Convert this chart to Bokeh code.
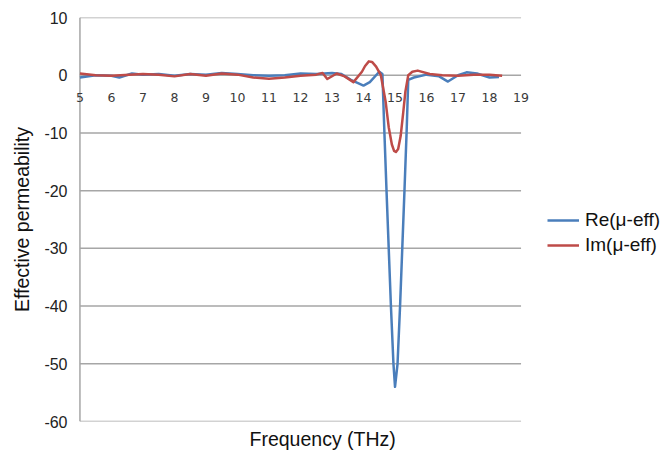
from bokeh.plotting import figure
from bokeh.models import LinearAxis, Range1d, FixedTicker, Legend, LegendItem, Title
from bokeh.embed import file_html
from bokeh.resources import INLINE

# Frequency (THz) and effective permeability values
re_freq = [5.0, 5.5, 6.0, 6.25, 6.65, 7.0, 7.5, 8.0, 8.5, 9.0, 9.5, 10.0, 10.5, 11.0, 11.5,
           12.0, 12.5, 13.0, 13.3, 13.6, 14.0, 14.2, 14.5, 14.6, 14.66, 14.73, 14.8, 14.87,
           14.95, 15.0, 15.08, 15.16, 15.23, 15.3, 15.37, 15.42, 15.6, 16.0, 16.4, 16.68,
           17.0, 17.27, 17.6, 18.0, 18.3]
re_mu = [-0.4, 0.0, -0.1, -0.4, 0.3, 0.1, 0.2, -0.1, 0.2, 0.1, 0.4, 0.2, 0.0, -0.1, 0.0,
         0.3, 0.2, 0.4, 0.2, -0.8, -1.8, -1.2, 0.6, 0.2, -9.5, -20.0, -30.0, -40.0,
         -50.0, -54.0, -50.0, -40.0, -30.0, -20.0, -9.5, -0.8, -0.4, 0.1, -0.2, -1.1,
         0.0, 0.5, 0.3, -0.4, -0.3]

im_freq = [5.0, 5.5, 6.0, 7.0, 7.5, 8.0, 8.5, 9.0, 9.5, 10.0, 10.5, 11.0, 11.5, 12.0,
           12.5, 12.7, 12.85, 13.15, 13.4, 13.68, 13.95, 14.05, 14.17, 14.27, 14.4, 14.55,
           14.7, 14.8, 14.9, 14.97, 15.03, 15.1, 15.18, 15.26, 15.33, 15.42, 15.55, 15.72,
           16.1, 16.5, 17.0, 17.5, 18.0, 18.4]
im_mu = [0.3, 0.0, -0.1, 0.2, 0.1, -0.2, 0.2, -0.1, 0.3, 0.1, -0.4, -0.6, -0.4, -0.1,
         0.1, 0.4, -0.65, 0.3, -0.2, -1.2, 0.6, 1.6, 2.4, 2.3, 1.5, 0.0,
         -4.5, -9.0, -12.0, -13.1, -13.3, -12.8, -10.5, -6.5, -2.8, 0.0, 0.6, 0.8,
         0.2, 0.0, -0.1, 0.1, 0.1, -0.1]

x_ticks = list(range(5, 20))
y_ticks = list(range(-60, 11, 10))
series_names = ["Re(\u03bc-eff)", "Im(\u03bc-eff)"]

p = figure(frame_width=460, frame_height=404, output_backend="svg", toolbar_location=None,
           x_range=Range1d(4.7, 19.3), y_range=Range1d(-60, 10),
           min_border_left=70, min_border_right=0, min_border_top=17, min_border_bottom=0,
           x_axis_location=None)
p.outline_line_color = None
p.background_fill_color = "white"
p.border_fill_color = "white"
p.xgrid.grid_line_color = None
p.ygrid.grid_line_color = None

# gridlines and the value axis line, spanning the frequency ticks
p.segment(x0=x_ticks[0], x1=x_ticks[-1], y0=y_ticks, y1=y_ticks,
          line_color="#a6a6a6", line_width=1.5)
p.segment(x0=x_ticks[0], x1=x_ticks[0], y0=y_ticks[0], y1=y_ticks[-1],
          line_color="#a6a6a6", line_width=1.5)

ya = p.yaxis[0]
ya.ticker = FixedTicker(ticks=y_ticks)
ya.major_label_overrides = {t: str(t) for t in y_ticks}
ya.axis_line_color = None
ya.major_tick_line_color = None
ya.minor_tick_line_color = None
ya.major_label_text_font = "Liberation Sans"
ya.major_label_text_font_size = "16px"
ya.major_label_text_color = "#222222"
ya.major_label_standoff = -3
ya.axis_label = "Effective permeability"
ya.axis_label_text_font = "Liberation Sans"
ya.axis_label_text_font_size = "19.5px"
ya.axis_label_text_font_style = "normal"
ya.axis_label_text_color = "#111111"
ya.axis_label_standoff = 8

xa = LinearAxis(fixed_location=0, ticker=FixedTicker(ticks=x_ticks))
xa.axis_line_color = None
xa.major_tick_line_color = None
xa.minor_tick_line_color = None
xa.major_label_text_font = "DejaVu Sans"
xa.major_label_text_font_size = "12.5px"
xa.major_label_text_color = "#3a3a3a"
xa.major_label_standoff = 12
p.add_layout(xa, "below")

p.add_layout(Title(text="Frequency (THz)", align="left", offset=179, standoff=9,
                   text_font="Liberation Sans", text_font_size="19.5px",
                   text_font_style="normal", text_color="#111111"), "below")

r1 = p.line(re_freq, re_mu, line_color="#4a7ebb", line_width=2.5, line_join="round")
r2 = p.line(im_freq, im_mu, line_color="#be4b48", line_width=2.5, line_join="round")

legend = Legend(items=[LegendItem(label=series_names[0], renderers=[r1]),
                       LegendItem(label=series_names[1], renderers=[r2])],
                location=(17, 165), border_line_color=None, background_fill_alpha=0,
                label_text_font="Liberation Sans", label_text_font_size="19px",
                label_text_color="#111111", glyph_width=32, spacing=3, padding=0,
                margin=0, label_standoff=6)
p.add_layout(legend, "right")

open("out.html", "w").write(file_html(p, INLINE))
